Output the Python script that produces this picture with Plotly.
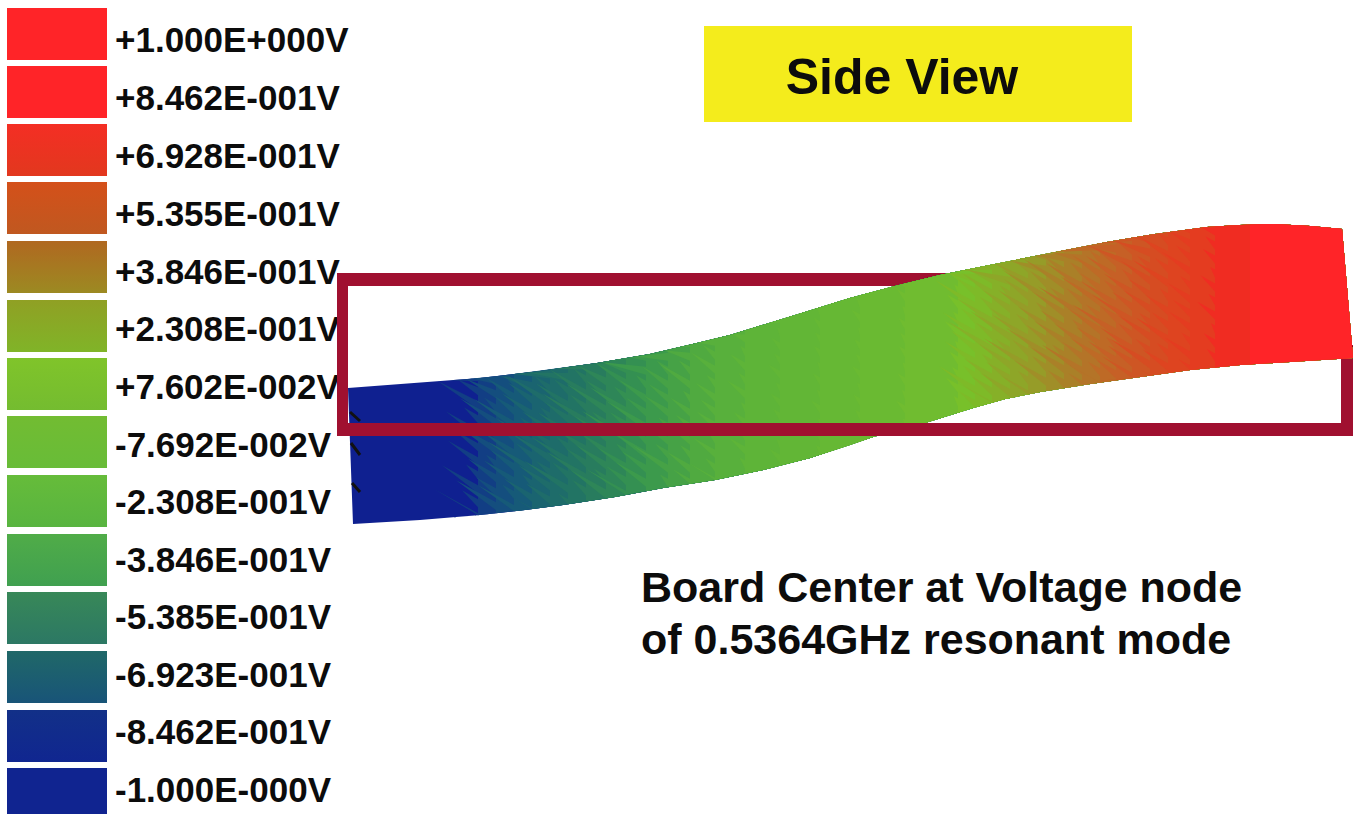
import numpy as np
import plotly.graph_objects as go

# Legend
voltage_labels = ["+1.000E+000V", "+8.462E-001V", "+6.928E-001V", "+5.355E-001V", "+3.846E-001V",
                  "+2.308E-001V", "+7.602E-002V", "-7.692E-002V", "-2.308E-001V", "-3.846E-001V",
                  "-5.385E-001V", "-6.923E-001V", "-8.462E-001V", "-1.000E-000V"]
swatch_tops = [8, 66, 124, 182, 241, 300, 358, 416, 475, 534, 592, 651, 710, 768]
swatch_bottoms = [60, 118, 176, 234, 293, 352, 410, 468, 527, 586, 644, 703, 762, 814]
swatch_top_colors = ["#FF2428", "#FF2428", "#F42E24", "#D4501A", "#B06820", "#90A024", "#80C42A",
                     "#72BC32", "#66BC3A", "#50AC48", "#388858", "#206868", "#123088", "#102490"]
swatch_bottom_colors = ["#FF2428", "#FF2428", "#E2381E", "#C05820", "#9C8A22", "#80B428", "#74BC30",
                        "#68BC38", "#58B440", "#40A050", "#2C7864", "#185478", "#102690", "#102490"]
label_y = [43, 101, 159, 217, 275, 332, 390, 448, 505, 563, 620, 678, 735, 793]

# Board outline
top_x = [348, 400, 480, 540, 597, 650, 697, 730, 763, 805, 850, 895, 940, 985, 1030, 1070, 1107, 1155, 1207, 1240, 1273, 1310, 1342]
top_y = [388, 384, 378, 371, 363, 354, 343, 335, 325, 312, 298, 286, 275, 266, 257, 249, 242, 234, 227, 225, 224, 226, 229]
bot_x = [353, 420, 480, 525, 563, 615, 663, 715, 763, 810, 850, 873, 925, 973, 1005, 1040, 1090, 1140, 1190, 1240, 1300, 1353]
bot_y = [524, 520, 515, 510, 505, 497, 488, 480, 470, 458, 445, 437, 423, 408, 399, 392, 384, 377, 370, 365, 361, 358]

# Colour bands along the board: left seam and colour of each band
band_x = [348, 478, 496, 514, 532, 550, 568, 586, 606, 626, 646, 668, 690, 715, 745, 780, 820, 860, 905, 958,
          975, 992, 1010, 1028, 1046, 1064, 1082, 1100, 1116, 1132, 1150, 1168, 1190, 1215, 1250]
band_color = ["#0F2090", "#123E84", "#144E7E", "#165A78", "#1A6470", "#1E6C6A", "#227464", "#287C5E", "#2E8658", "#349052",
              "#3C9A4C", "#46A246", "#50AA40", "#58B03C", "#5EB438", "#62B636", "#66B834", "#6ABA32", "#70BC30", "#78C02A",
              "#7EBA28", "#86B028", "#8EA628", "#969C28", "#A08E28", "#AA8028", "#B47428", "#BE6A26", "#C66026", "#CE5624",
              "#D64C22", "#DE4420", "#E43C20", "#F02C22", "#FF2428"]
tooth_scale = [0, 1, 1, 1, 1, 1, 1, 1, 1, 1, 1, 0.8, 0.7, 0.6, 0.4, 0.3, 0.2, 0.2, 0.2, 0.3,
               1, 1, 1, 1, 1, 1, 1, 1, 1, 1, 0.9, 0.8, 0.7, 0.4, 0]
tooth_lengths = [30, 12, 36, 16, 44, 10, 28, 20, 40, 14, 32, 24]

# Frame: outer and inner corners, and where the board hides it
frame_outer = (337, 273, 1353, 436)
frame_inner = (348, 286, 1341, 423)
frame_top_end = 960
frame_right_start = 345
frame_front_end = 940
frame_color = "#A01030"

fig = go.Figure()


def add_box(x0, y0, x1, y1, color):
    fig.add_trace(go.Scatter(x=[x0, x1, x1, x0, x0], y=[y0, y0, y1, y1, y0], mode="lines",
                             line=dict(width=0), fill="toself", fillcolor=color,
                             hoverinfo="skip", showlegend=False))


for i, lab in enumerate(voltage_labels):
    xs = [7, 107, 107, 7, 7]
    ys = [swatch_tops[i], swatch_tops[i], swatch_bottoms[i], swatch_bottoms[i], swatch_tops[i]]
    fig.add_trace(go.Scatter(x=xs, y=ys, mode="lines", line=dict(width=0), fill="toself",
                             fillgradient=dict(type="vertical",
                                               colorscale=[[0, swatch_bottom_colors[i]], [1, swatch_top_colors[i]]]),
                             hoverinfo="skip", showlegend=False))

fig.add_trace(go.Scatter(x=[115] * len(voltage_labels), y=label_y, text=voltage_labels, mode="text",
                         textposition="middle right",
                         textfont=dict(family="Liberation Sans", size=35, color="#0c0c0c", weight="bold"),
                         hoverinfo="skip", showlegend=False))

# Frame behind the board
ox0, oy0, ox1, oy1 = frame_outer
ix0, iy0, ix1, iy1 = frame_inner
add_box(ox0, oy0, frame_top_end, iy0, frame_color)
add_box(ix1, frame_right_start, ox1, oy1, frame_color)
add_box(ox0, iy1, ox1, oy1, frame_color)
add_box(ox0, oy0, ix0, oy1, frame_color)


def edge_top(x):
    return np.interp(x, top_x, top_y)


def edge_bot(x):
    return np.interp(x, bot_x, bot_y)


for i, (x0, col) in enumerate(zip(band_x, band_color)):
    seam_x, seam_y = [], []
    if tooth_scale[i] > 0:
        y = edge_top(x0) - 24 + (i * 5) % 14
        k = i * 5
        end = edge_bot(x0) + 34
        while y < end:
            L = tooth_lengths[k % len(tooth_lengths)] * tooth_scale[i]
            seam_x += [x0, x0 - L, x0]
            seam_y += [y, y - 0.55 * L, y + 8]
            y += 14
            k += 1
    elif i == 0:
        seam_x = [348, 353]
        seam_y = [388, 524]
    else:
        seam_x = [x0, x0]
        seam_y = [edge_top(x0), edge_bot(x0)]
    seam_x = np.array(seam_x, float)
    seam_y = np.clip(np.array(seam_y, float), edge_top(seam_x), edge_bot(seam_x))
    low_x = [x for x in bot_x if x > seam_x[-1]]
    low_y = list(edge_bot(np.array(low_x, float)))
    up_x = [x for x in top_x if x > seam_x[0]][::-1]
    up_y = list(edge_top(np.array(up_x, float)))
    xs = list(seam_x) + low_x + up_x + [seam_x[0]]
    ys = list(seam_y) + low_y + up_y + [seam_y[0]]
    fig.add_trace(go.Scatter(x=xs, y=ys, mode="lines", line=dict(width=0, color=col), fill="toself",
                             fillcolor=col, hoverinfo="skip", showlegend=False))

# Front part of the frame, over the board
add_box(ox0, oy0, ix0, oy1, frame_color)
add_box(ox0, iy1, frame_front_end, oy1, frame_color)

# Black nicks
fig.add_trace(go.Scatter(x=[350, 360, None, 351, 360, None, 352, 360],
                         y=[412, 421, None, 443, 455, None, 483, 492], mode="lines",
                         line=dict(color="#111111", width=3), hoverinfo="skip", showlegend=False))

# Side View banner
add_box(704, 26, 1132, 122, "#F4EC1C")
fig.add_trace(go.Scatter(x=[902], y=[81], text=["Side View"], mode="text", textposition="middle center",
                         textfont=dict(family="Liberation Sans", size=50, color="#0c0c0c", weight="bold"),
                         hoverinfo="skip", showlegend=False))

fig.add_trace(go.Scatter(x=[641, 641], y=[591, 643],
                         text=["Board Center at Voltage node", "of 0.5364GHz resonant mode"], mode="text",
                         textposition="middle right",
                         textfont=dict(family="Liberation Sans", size=43, color="#0c0c0c", weight="bold"),
                         hoverinfo="skip", showlegend=False))

fig.update_layout(width=1356, height=814, margin=dict(l=0, r=0, t=0, b=0), autosize=False,
                  paper_bgcolor="white", plot_bgcolor="white", showlegend=False,
                  xaxis=dict(range=[0, 1356], visible=False, fixedrange=True),
                  yaxis=dict(range=[814, 0], visible=False, fixedrange=True))
fig.write_html("out.html", config=dict(displayModeBar=False),
               post_script="document.body.style.margin='0';document.documentElement.style.overflow='hidden';")
